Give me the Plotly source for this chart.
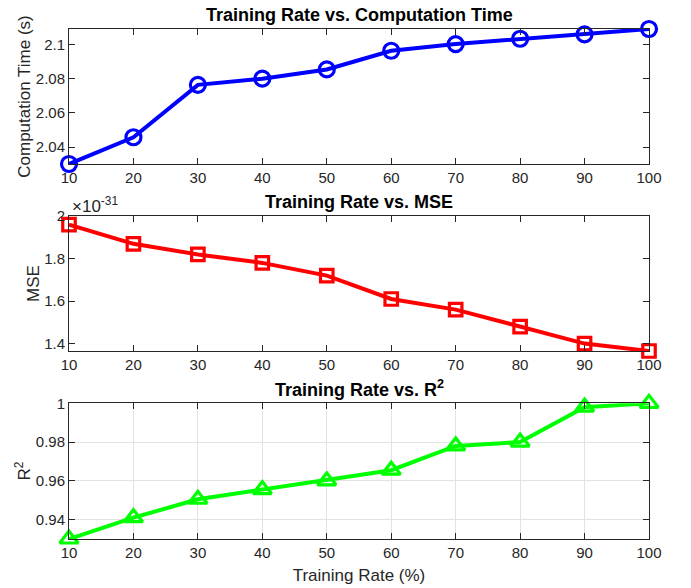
import plotly.graph_objects as go

# Training rate (%) shared by all three panels
rate = [10, 20, 30, 40, 50, 60, 70, 80, 90, 100]

# Computation time (s)
comp_time = [2.0302, 2.0458, 2.0764, 2.0800, 2.0854, 2.0963, 2.1002, 2.1033, 2.1059, 2.1090]

# Mean squared error (actual values, shown scaled by 1e-31)
mse = [1.96e-31, 1.87e-31, 1.82e-31, 1.78e-31, 1.72e-31, 1.61e-31, 1.56e-31, 1.48e-31, 1.40e-31, 1.365e-31]
mse_scale = 1e-31

# Coefficient of determination
r2 = [0.930, 0.941, 0.9505, 0.9555, 0.960, 0.9655, 0.978, 0.980, 0.998, 1.000]

# Tick labels
x_ticks = [10, 20, 30, 40, 50, 60, 70, 80, 90, 100]
x_ticklabels = ["10", "20", "30", "40", "50", "60", "70", "80", "90", "100"]
time_ticks = [2.04, 2.06, 2.08, 2.10]
time_ticklabels = ["2.04", "2.06", "2.08", "2.1"]
mse_ticks = [1.4, 1.6, 1.8, 2.0]
mse_ticklabels = ["1.4", "1.6", "1.8", "2"]
r2_ticks = [0.94, 0.96, 0.98, 1.0]
r2_ticklabels = ["0.94", "0.96", "0.98", "1"]

W, H = 691, 588
FONT = "Liberation Sans, Arial, Helvetica, sans-serif"
TXT = "#262626"

mse_scaled = [v / mse_scale for v in mse]

# plot-area box in pixels
L, R, T, B = 69, 42, 29, 49
inner_h = H - T - B
# vertical extents (px from top of page) of the three panels
panels = [(29.0, 164.0), (216.2, 351.0), (403.3, 539.0)]


def ydom(top, bot):
    return [(H - B - bot) / inner_h, (H - B - top) / inner_h]


fig = go.Figure()

fig.add_trace(go.Scatter(
    x=rate, y=comp_time, mode="lines+markers", xaxis="x", yaxis="y",
    line=dict(color="#0000ff", width=4),
    marker=dict(symbol="circle-open", size=15, color="#0000ff", line=dict(width=3.2, color="#0000ff")),
    cliponaxis=False, showlegend=False))

fig.add_trace(go.Scatter(
    x=rate, y=mse_scaled, mode="lines+markers", xaxis="x2", yaxis="y2",
    line=dict(color="#ff0000", width=4),
    marker=dict(symbol="square-open", size=12.5, color="#ff0000", line=dict(width=3.2, color="#ff0000")),
    cliponaxis=False, showlegend=False))

fig.add_trace(go.Scatter(
    x=rate, y=r2, mode="lines+markers", xaxis="x3", yaxis="y3",
    line=dict(color="#00ff00", width=4),
    marker=dict(symbol="triangle-up-open", size=16, color="#00ff00", line=dict(width=3.2, color="#00ff00")),
    cliponaxis=False, showlegend=False))

common_x = dict(
    domain=[0, 1], range=[min(rate), max(rate)], tickvals=x_ticks, ticktext=x_ticklabels,
    ticks="inside", ticklen=6, tickcolor=TXT, showline=True, linecolor=TXT, linewidth=1,
    mirror="ticks", zeroline=False, tickfont=dict(family=FONT, size=15, color=TXT),
)
common_y = dict(
    ticks="inside", ticklen=6, tickcolor=TXT, showline=True, linecolor=TXT, linewidth=1,
    mirror="ticks", zeroline=False, tickfont=dict(family=FONT, size=15, color=TXT),
)

fig.update_layout(
    width=W, height=H,
    autosize=False,
    margin=dict(l=L, r=R, t=T, b=B, pad=0, autoexpand=False),
    paper_bgcolor="white", plot_bgcolor="white",
    xaxis=dict(common_x, anchor="y", showgrid=False),
    yaxis=dict(common_y, domain=ydom(*panels[0]), anchor="x", showgrid=False,
               range=[min(comp_time), max(comp_time)],
               tickvals=time_ticks, ticktext=time_ticklabels,
               title=dict(text="Computation Time (s)", font=dict(family=FONT, size=17, color=TXT), standoff=0)),
    xaxis2=dict(common_x, anchor="y2", showgrid=False),
    yaxis2=dict(common_y, domain=ydom(*panels[1]), anchor="x2", showgrid=False,
                range=[min(mse_scaled), 2.0],
                tickvals=mse_ticks, ticktext=mse_ticklabels,
                title=dict(text="MSE", font=dict(family=FONT, size=17, color=TXT), standoff=0)),
    xaxis3=dict(common_x, anchor="y3", showgrid=True, gridcolor="#e3e3e3", gridwidth=1,
                title=dict(text="Training Rate (%)", font=dict(family=FONT, size=17, color=TXT), standoff=9)),
    yaxis3=dict(common_y, domain=ydom(*panels[2]), anchor="x3", showgrid=True, gridcolor="#e3e3e3", gridwidth=1,
                range=[0.93, 1.0],
                tickvals=r2_ticks, ticktext=r2_ticklabels,
                title=dict(text="R<sup>2</sup>", font=dict(family=FONT, size=17, color=TXT), standoff=0)),
)

# Panel titles (y in px from the top of the page)
titles = ["Training Rate vs. Computation Time", "Training Rate vs. MSE", "Training Rate vs. R<sup>2</sup>"]
title_y_px = [15, 202, 389]
for t, ypx in zip(titles, title_y_px):
    fig.add_annotation(
        text="<b>" + t + "</b>", x=0.5, y=(H - B - ypx) / inner_h,
        xref="paper", yref="paper", xanchor="center", yanchor="middle",
        showarrow=False, font=dict(family=FONT, size=18, color="black"))

# Exponent marker for the MSE axis
fig.add_annotation(
    text="×10<sup>-31</sup>", x=0.002, y=(H - B - 205) / inner_h,
    xref="paper", yref="paper", xanchor="left", yanchor="middle",
    showarrow=False, font=dict(family=FONT, size=17, color=TXT))

fig.write_html("out.html")
